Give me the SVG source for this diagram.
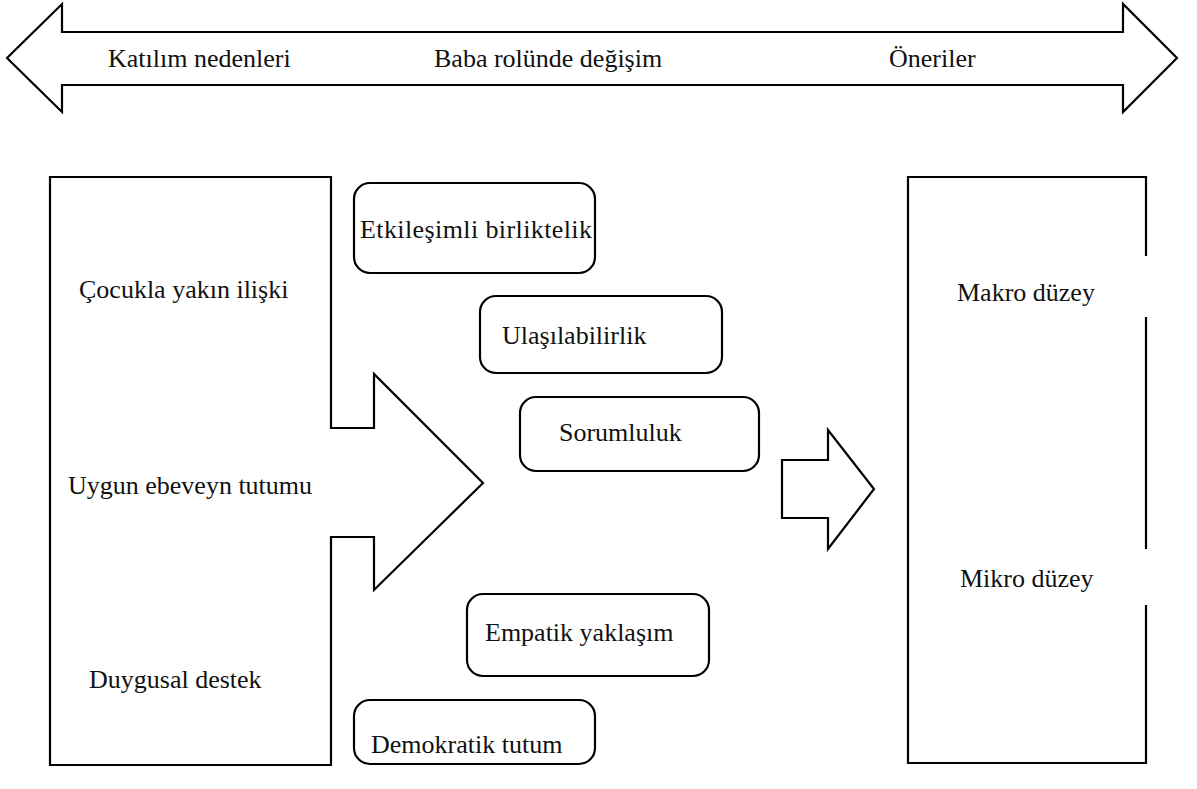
<svg xmlns="http://www.w3.org/2000/svg" width="1197" height="789" viewBox="0 0 1197 789">
<style>
.s{fill:#fff;stroke:#000;stroke-width:2.2;stroke-linejoin:miter}
.b{fill:#fff;stroke:#000;stroke-width:2.2}
.t{font-family:"Liberation Serif","Times New Roman",serif;font-size:26px;fill:#111}
.l{stroke:#000;stroke-width:2.2;fill:none}
</style>
<rect width="1197" height="789" fill="#fff"/>
<g id="timeline">
<polygon class="s" points="7,58 62,4 62,32 1123,32 1123,4 1177,58 1123,112 1123,85 62,85 62,112"/>
<text class="t" x="108" y="67">Katılım nedenleri</text>
<text class="t" x="434" y="67">Baba rolünde değişim</text>
<text class="t" x="889" y="67">Öneriler</text>
</g>
<g id="left">
<polygon class="s" points="50,177 331,177 331,428 374,428 374,374 483,483 374,590 374,537 331,537 331,765 50,765"/>
<text class="t" x="79" y="298">Çocukla yakın ilişki</text>
<text class="t" x="68" y="494">Uygun ebeveyn tutumu</text>
<text class="t" x="89" y="688">Duygusal destek</text>
</g>
<g id="n1"><rect class="b" x="354" y="183" width="241" height="90" rx="16"/><text class="t" x="360" y="238" textLength="232">Etkileşimli birliktelik</text></g>
<g id="n2"><rect class="b" x="480" y="296" width="242" height="77" rx="16"/><text class="t" x="502" y="344">Ulaşılabilirlik</text></g>
<g id="n3"><rect class="b" x="520" y="397" width="239" height="74" rx="16"/><text class="t" x="559" y="441">Sorumluluk</text></g>
<g id="n4"><rect class="b" x="467" y="594" width="242" height="82" rx="16"/><text class="t" x="485" y="641">Empatik yaklaşım</text></g>
<g id="n5"><rect class="b" x="354" y="700" width="241" height="64" rx="16"/><text class="t" x="371" y="753">Demokratik tutum</text></g>
<g id="connectors">
<polygon class="s" points="782,460 828,460 828,430 874,489 828,549 828,518 782,518"/>
</g>
<g id="right">
<rect x="908" y="177" width="238" height="586" fill="#fff"/>
<path class="l" d="M1146,256 V177 H908 V763 H1146 V605 M1146,317 V549"/>
<text class="t" x="957" y="301">Makro düzey</text>
<text class="t" x="960" y="587">Mikro düzey</text>
</g>
</svg>
